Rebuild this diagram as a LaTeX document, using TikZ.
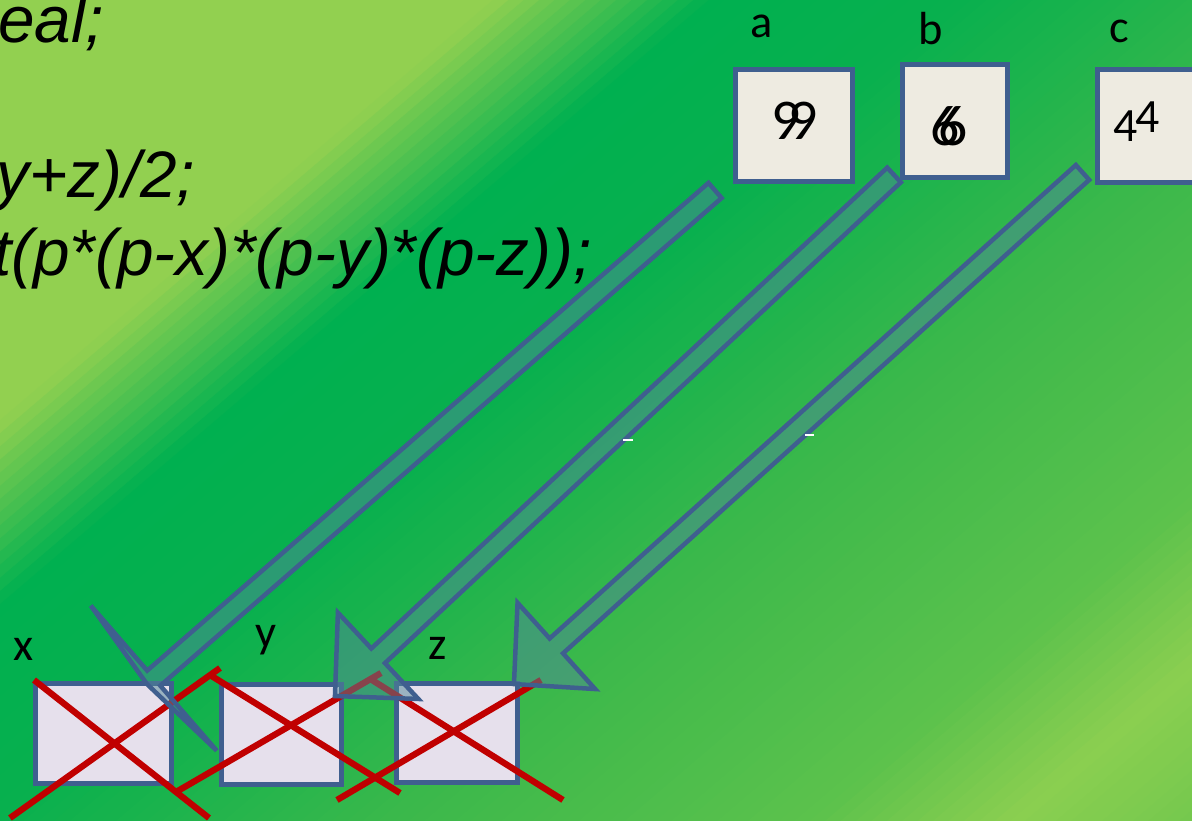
\documentclass[tikz,border=0pt]{standalone}
\usepackage{fontspec}
\setmainfont{Carlito}
\newfontfamily\codefont{Liberation Sans}
\usetikzlibrary{calc}

\definecolor{bgLight}{HTML}{92D050}
\definecolor{bgDark}{HTML}{00B050}
\definecolor{bgDeep}{HTML}{08B04E}
\definecolor{bgMid}{HTML}{3BB84B}
\definecolor{bgSoft}{HTML}{5CC24C}
\definecolor{bgPale}{HTML}{8BCF50}
\definecolor{bgEnd}{HTML}{74C84E}
\definecolor{boxBlue}{HTML}{3F5F8F}
\definecolor{cellBeige}{HTML}{EEEBE1}
\definecolor{cellLilac}{HTML}{E6E0EC}
\definecolor{crossRed}{HTML}{C00000}
\definecolor{arrowTeal}{HTML}{4F8798}

\newcommand{\px}{0.025cm}
% block arrow: start, tip, half width of the head, length of the head
\newcommand{\blockarrow}[4]{%
  \coordinate (#1base) at ($(#2)!#4!(#1)$);
  \filldraw[arrowbody] ($(#1)!0.25cm!90:(#2)$) -- ($(#1base)!0.25cm!90:(#2)$)
    -- ($(#1base)!#3!90:(#2)$) -- (#2) -- ($(#1base)!#3!-90:(#2)$)
    -- ($(#1base)!0.25cm!-90:(#2)$) -- ($(#1)!0.25cm!-90:(#2)$) -- cycle;}

\begin{document}
\begin{tikzpicture}[x=0.025cm,y=-0.025cm,
  cell/.style={draw=boxBlue,line width=3.5pt,inner sep=0pt},
  lbl/.style={anchor=base,font=\fontsize{33}{40}\selectfont},
  val/.style={anchor=base west,inner sep=0pt,font=\fontsize{41}{48}\selectfont},
  code/.style={anchor=base west,inner sep=0pt,font=\codefont\itshape\fontsize{46.7}{56}\selectfont},
  cross/.style={crossRed,line width=4.5pt},
  arrowbody/.style={draw=boxBlue,line width=3.2pt,fill=arrowTeal,fill opacity=0.5}]
  \useasboundingbox (0,0) rectangle (1192,821);
  % background
  \begin{scope}
    \clip (0,0) rectangle (1192,821);
    \foreach \tfrom/\tto/\cfrom/\cto in {0/320/bgLight/bgLight,320/460/bgLight/bgDark,
        460/620/bgDark/bgDeep,620/880/bgDeep/bgMid,880/1150/bgMid/bgSoft,
        1150/1280/bgSoft/bgPale,1280/1400/bgPale/bgEnd}{
      \pgfmathtruncatemacro\nstrip{(\tto-\tfrom)/10}
      \foreach \kstrip in {1,...,\nstrip}{
        \pgfmathsetmacro\sA{\tfrom+(\kstrip-1)*10}
        \pgfmathsetmacro\sB{\sA+11}
        \pgfmathtruncatemacro\pct{100*(\kstrip-0.5)/\nstrip}
        \fill[fill={\cto!\pct!\cfrom}] ({\sA*0.649-533},{\sA*0.761+454}) -- ({\sA*0.649+761},{\sA*0.761-649})
          -- ({\sB*0.649+761},{\sB*0.761-649}) -- ({\sB*0.649-533},{\sB*0.761+454}) -- cycle;
      }
    }
  \end{scope}

  % code lines
  \node[code] (line1) at (-2,43) {eal;};
  \node[code] (line2) at (-4,197) {y+z)/2;};
  \node[code] (line3) at (-7,275) {t(p*(p-x)*(p-y)*(p-z));};

  % cells
  \node[cell,fill=cellBeige,minimum width=117*\px,minimum height=112*\px] (boxA) at (794,125.5) {};
  \node[cell,fill=cellBeige,minimum width=105*\px,minimum height=113*\px] (boxB) at (955,121) {};
  \node[cell,fill=cellBeige,minimum width=115*\px,minimum height=113*\px] (boxC) at (1155,126) {};
  \node[cell,fill=cellLilac,minimum width=136*\px,minimum height=100*\px] (boxX) at (103.5,733.5) {};
  \node[cell,fill=cellLilac,minimum width=120*\px,minimum height=100*\px] (boxY) at (281.5,734.5) {};
  \node[cell,fill=cellLilac,minimum width=121*\px,minimum height=99*\px] (boxZ) at (457,733) {};

  \node[lbl] (labA) at (762,38) {a};
  \node[lbl] (labB) at (931,45) {b};
  \node[lbl] (labC) at (1119,43) {c};
  \node[lbl] (labX) at (24,660) {x};
  \node[lbl] (labY) at (266,647) {y};
  \node[lbl] (labZ) at (438,659) {z};

  \node[val] (valA) at (771,140) {9\kern-.21em9};
  \node[val] (valB) at (930,145) {6\kern-.37em6};
  \node[val,font=\fontsize{34}{40}\selectfont] (valC) at (1113,142) {4\kern-.04em\raisebox{0.225cm}{4}};

  % crossed out
  \draw[cross] (10,818) -- (220,668);
  \draw[cross] (34,680) -- (209,818);
  \draw[cross] (176,792) -- (381,673);
  \draw[cross] (210,675) -- (400,793);
  \draw[cross] (337,800) -- (541,680);
  \draw[cross] (372,680) -- (563,800);

  % copies
  \coordinate (fromA) at ($(boxA.south west)+(-18,6.5)$);
  \coordinate (fromB) at ($(boxB.south west)+(-6,-5)$);
  \coordinate (fromC) at ($(boxC.south west)+(-12.5,-12.5)$);
  \coordinate (toX) at ($(boxX.north east)+(-27,3)$);
  \coordinate (toY) at ($(boxY.north east)+(-9,14)$);
  \coordinate (toZ) at ($(boxZ.north east)+(-6,3)$);
  \blockarrow{fromA}{toX}{2.4cm}{0.225cm}
  \blockarrow{fromB}{toY}{1.475cm}{1.475cm}
  \blockarrow{fromC}{toZ}{1.45cm}{1.425cm}

  \draw[white,line width=1.5pt] (623,440) -- (633,440);
  \draw[white,line width=1.5pt] (805,435) -- (814,435);
\end{tikzpicture}
\end{document}
